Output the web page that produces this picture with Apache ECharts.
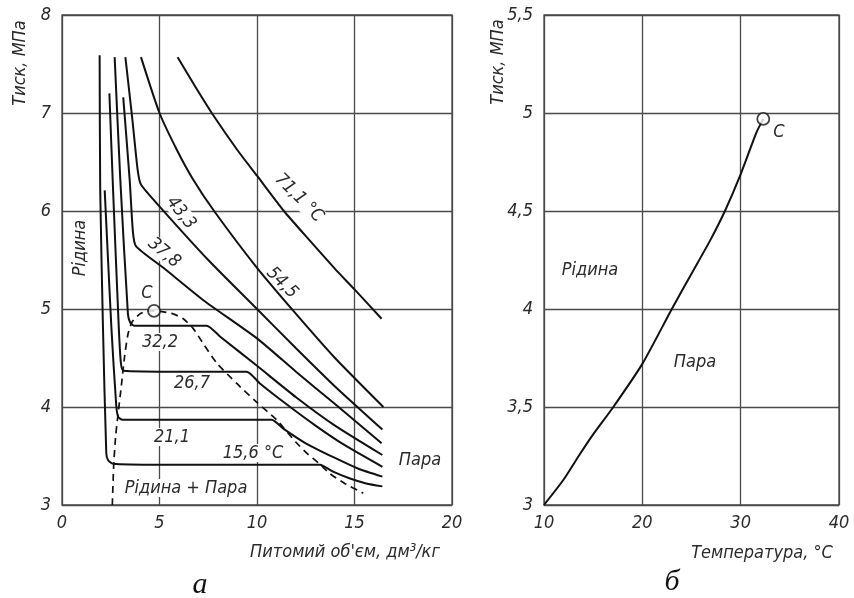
<!DOCTYPE html>
<html>
<head>
<meta charset="utf-8">
<script src="https://cdn.jsdelivr.net/npm/echarts@6/dist/echarts.min.js"></script>
<style>
html,body{margin:0;padding:0;background:#fff;}
#chart{width:854px;height:598px;}
</style>
</head>
<body>
<div id="chart"></div>
<script>
// ---- Panel a: isotherms, p(v) ----
const iso156 = [[1.93,7.59],[1.96,6.21],[2.10,4.82],[2.27,3.53],[2.36,3.46],[2.62,3.42],[5,3.41],[10,3.41],[13.23,3.41],[13.9,3.34],[14.77,3.27],[15.6,3.22],[16.43,3.19]];
const iso211 = [[2.19,6.21],[2.53,4.82],[2.78,4.02],[2.88,3.90],[3.1,3.87],[6,3.87],[10.75,3.87],[11.35,3.78],[12.5,3.63],[14,3.48],[15.2,3.37],[16.43,3.29]];
const iso267 = [[2.43,7.2],[2.62,6.21],[2.91,4.82],[3.02,4.45],[3.15,4.37],[6,4.36],[9.47,4.36],[10.15,4.24],[11.5,4.03],[13,3.81],[14.5,3.61],[16.43,3.39]];
const iso322 = [[2.70,7.57],[2.99,6.32],[3.38,4.95],[3.5,4.86],[3.7,4.83],[5.5,4.83],[7.42,4.83],[8.1,4.72],[10,4.42],[12,4.10],[14,3.81],[16.43,3.51]];
const iso378 = [[3.14,7.16],[3.47,6.32],[3.64,5.78],[3.80,5.64],[5.2,5.42],[7.25,5.09],[10,4.70],[12,4.36],[14,4.03],[16.39,3.63]];
const iso433 = [[3.25,7.57],[3.6,6.95],[3.88,6.42],[4.05,6.27],[5.03,6.04],[7.5,5.5],[10,5.0],[12,4.6],[14,4.21],[16.43,3.77]];
const iso545 = [[4.05,7.57],[5,7.0],[5.9,6.62],[6.7,6.33],[7.8,6.0],[10,5.42],[12,4.95],[14,4.5],[16.48,4.0]];
const iso711 = [[5.93,7.57],[6.8,7.28],[7.68,7.0],[9.0,6.62],[10,6.36],[11.38,6.0],[12.7,5.7],[14,5.41],[15,5.2],[16.39,4.9]];
const dome = [[2.58,3.0],[2.65,3.4],[2.75,3.7],[2.87,3.92],[3.04,4.21],[3.2,4.5],[3.38,4.74],[3.6,4.87],[4.0,4.95],[4.4,4.98],[4.72,4.98],[5.2,4.97],[5.7,4.95],[6.22,4.90],[6.73,4.80],[7.3,4.63],[7.93,4.45],[8.96,4.24],[9.98,4.05],[11.0,3.87],[12.0,3.64],[12.55,3.53],[13.2,3.42],[13.74,3.32],[14.5,3.22],[15.45,3.12]];
const criticalA = [[4.72,4.98]];

// ---- Panel b: saturation curve p(T) ----
const tempB = [10, 12, 13.66, 15, 17.05, 20, 23, 25, 26.9, 28.4, 29.9, 31.6, 32.3];
const pressB = [3.0, 3.13, 3.26, 3.36, 3.5, 3.72, 4.0, 4.18, 4.35, 4.5, 4.675, 4.9, 4.97];
const criticalB = [[32.3, 4.97]];

const FONT = "'DejaVu Sans Condensed', 'Liberation Sans Narrow', sans-serif";
const TXT = '#2a2a2a';
const GRIDC = '#4a4a4a';

function comma(v){ return String(v).replace('.', ','); }

function axisX(idx, min, max, interval){
  return {gridIndex: idx, type:'value', min, max, interval,
    axisLine:{show:false}, axisTick:{show:false},
    axisLabel:{fontFamily:FONT, fontStyle:'italic', fontSize:18, color:TXT, margin:9, formatter: comma},
    splitLine:{show:true, lineStyle:{color:GRIDC, width:1.3}}};
}
function axisY(idx, min, max, interval){
  return {gridIndex: idx, type:'value', min, max, interval,
    axisLine:{show:false}, axisTick:{show:false},
    axisLabel:{fontFamily:FONT, fontStyle:'italic', fontSize:18, color:TXT, margin:11, formatter: comma},
    splitLine:{show:true, lineStyle:{color:GRIDC, width:1.3}}};
}
function iso(data){
  return {type:'line', xAxisIndex:0, yAxisIndex:0, data, showSymbol:false, smooth:0.2,
    lineStyle:{color:'#111', width:2}, silent:true, z:3};
}
function txt(x, y, text, opts){
  opts = opts || {};
  return {type:'text', x, y, rotation: opts.rot || 0, z: 1,
    style:{text, fontFamily:FONT, fontStyle:'italic', fontSize: opts.size || 18, fill:TXT,
      align:'center', verticalAlign:'middle',
      backgroundColor: opts.bg === false ? null : '#fff', padding: opts.bg === false ? 0 : [0,2]}};
}

const chart = echarts.init(document.getElementById('chart'), null, {renderer:'canvas'});
const deg = Math.PI/180;
chart.setOption({
  backgroundColor:'#fff',
  animation:false,
  grid:[
    {left:62, top:15, width:390, height:490, show:true, borderColor:GRIDC, borderWidth:1.3},
    {left:544, top:15, width:295, height:490, show:true, borderColor:GRIDC, borderWidth:1.3}
  ],
  xAxis:[axisX(0,0,20,5), axisX(1,10,40,10)],
  yAxis:[axisY(0,3,8,1), axisY(1,3,5.5,0.5)],
  series:[
    iso(iso156), iso(iso211), iso(iso267), iso(iso322), iso(iso378), iso(iso433), iso(iso545), iso(iso711),
    {type:'line', xAxisIndex:0, yAxisIndex:0, data:dome, showSymbol:false, smooth:0.2,
      lineStyle:{color:'#111', width:1.7, type:[7,5]}, z:3},
    {type:'scatter', xAxisIndex:0, yAxisIndex:0, data:criticalA, symbol:'circle', symbolSize:12,
      itemStyle:{color:'#fff', borderColor:'#111', borderWidth:1.8}, z:5},
    {type:'line', xAxisIndex:1, yAxisIndex:1, data: tempB.map((t,i)=>[t, pressB[i]]), showSymbol:false, smooth:0.2,
      lineStyle:{color:'#111', width:2}, z:3},
    {type:'scatter', xAxisIndex:1, yAxisIndex:1, data:criticalB, symbol:'circle', symbolSize:12,
      itemStyle:{color:'#fff', borderColor:'#111', borderWidth:1.8}, z:5}
  ],
  graphic:[
    txt(20, 63, 'Тиск, МПа', {rot: 90*deg, bg:false}),
    txt(498, 62, 'Тиск, МПа', {rot: 90*deg, bg:false}),
    txt(345, 552, "Питомий об'єм, дм³/кг", {bg:false}),
    txt(762, 553, 'Температура, °С', {bg:false}),
    {type:'text', x:200, y:585, z:1, style:{text:'а', fontFamily:"'Liberation Serif', serif", fontStyle:'italic', fontSize:30, fill:'#111', align:'center', verticalAlign:'middle'}},
    {type:'text', x:672, y:582, z:1, style:{text:'б', fontFamily:"'Liberation Serif', serif", fontStyle:'italic', fontSize:30, fill:'#111', align:'center', verticalAlign:'middle'}},
    txt(80, 248, 'Рідина', {rot: 90*deg}),
    txt(186, 488, 'Рідина + Пара'),
    txt(420, 460, 'Пара'),
    txt(147, 293, 'С', {bg:false}),
    txt(160, 342, '32,2'),
    txt(192, 383, '26,7'),
    txt(172, 437, '21,1'),
    txt(253, 453, '15,6 °С'),
    txt(164, 253, '37,8', {rot: -40*deg}),
    txt(181, 213, '43,3', {rot: -52*deg}),
    txt(282, 283, '54,5', {rot: -45*deg}),
    txt(299, 198, '71,1 °С', {rot: -45*deg}),
    txt(590, 270, 'Рідина'),
    txt(695, 362, 'Пара'),
    txt(779, 132, 'С', {bg:false})
  ]
});
</script>
</body>
</html>
